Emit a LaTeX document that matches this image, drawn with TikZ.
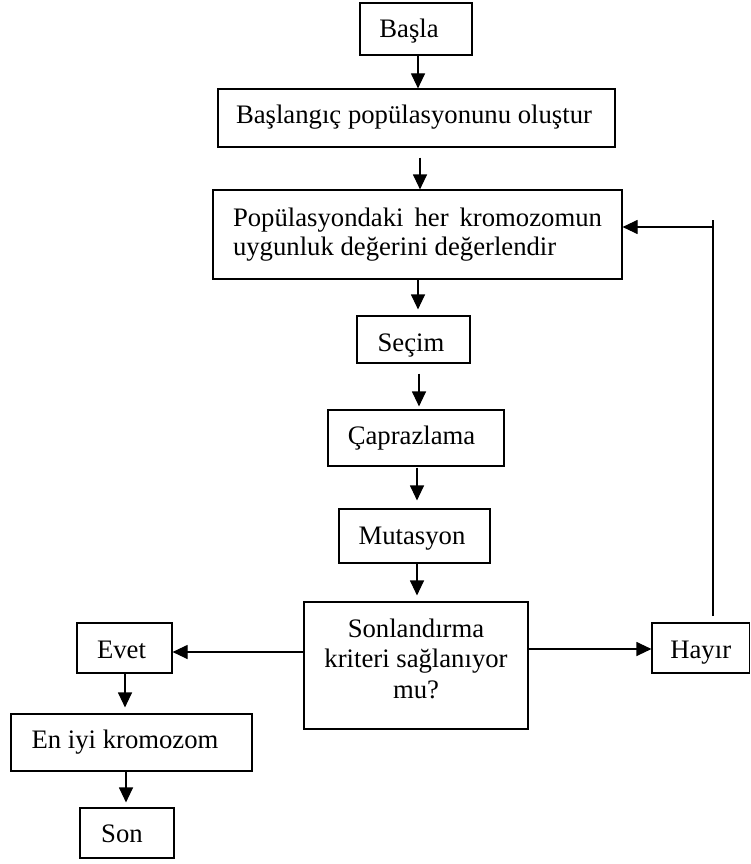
\documentclass[tikz,border=0pt]{standalone}
\usepackage{fontspec}
\setmainfont{Liberation Serif}
\usetikzlibrary{arrows.meta}
\newcommand{\lsh}[1]{\hspace*{#1}}
\begin{document}
\begin{tikzpicture}[x=1pt,y=-1pt,
  box/.style={draw, line width=1.15pt, inner sep=0pt, align=center,
    font=\fontsize{26.7}{30.5}\selectfont},
  arr/.style={-{Triangle[length=15pt,width=14pt]}, line width=1.15pt},
  plain/.style={line width=1.15pt}]
\useasboundingbox (0,0) rectangle (750,864);
\fill[white] (0,0) rectangle (750,864);
\node[box, minimum width=112pt, minimum height=52pt, text height=25pt, text depth=7pt] (basla) at (416,29) {Başla\lsh{14pt}};
\node[box, minimum width=397pt, minimum height=58pt, text height=19pt, text depth=7pt] (init) at (416.5,118) {Başlangıç popülasyonunu oluştur\lsh{5pt}};
\node[box, minimum width=409pt, minimum height=89pt, text width=369pt, align=justify, text height=18pt, text depth=35pt, font=\fontsize{26.7}{29}\selectfont] (eval) at (417.5,234.5) {\hyphenpenalty=10000 Popülasyondaki her kromozomun uygunluk değerini değerlendir};
\node[box, minimum width=113pt, minimum height=47pt, text height=30pt, text depth=7pt] (secim) at (413.5,339.5) {Seçim\lsh{5pt}};
\node[box, minimum width=176pt, minimum height=56pt, text height=19pt, text depth=7pt] (capr) at (416,438) {Çaprazlama\lsh{9pt}};
\node[box, minimum width=151pt, minimum height=54pt, text height=23pt, text depth=7pt] (mut) at (414.5,536) {Mutasyon\lsh{5pt}};
\node[box, minimum width=224pt, minimum height=127pt, text depth=14.2pt] (sonl) at (416,665.5) {Sonlandırma\\kriteri sağlanıyor\\mu?};
\node[box, minimum width=95pt, minimum height=50pt, text height=27pt, text depth=7pt] (evet) at (124.5,648) {Evet\lsh{6pt}};
\node[box, minimum width=97.5pt, minimum height=50pt, text height=27pt, text depth=7pt] (hayir) at (700.75,648) {Hayır};
\node[box, minimum width=241pt, minimum height=57pt, text height=18pt, text depth=7pt] (best) at (131.5,742.5) {En iyi kromozom\lsh{13pt}};
\node[box, minimum width=94pt, minimum height=50pt, text height=25pt, text depth=7pt] (son) at (127,833) {Son\lsh{10pt}};
\coordinate (fbbot) at (713,616);
\coordinate (fbtop) at (713,220);
\coordinate (fbturn) at (713,227);
% connectors
\draw[arr] ([xshift=2pt]basla.south) -- ([xshift=2pt]basla.south |- init.north);
\draw[arr, shorten <=10pt] ([xshift=3.5pt]init.south) -- ([xshift=3.5pt]init.south |- eval.north);
\draw[arr, shorten >=6pt] ([xshift=0.5pt]eval.south) -- ([xshift=0.5pt]eval.south |- secim.north);
\draw[arr, shorten <=10pt, shorten >=3pt] ([xshift=5.5pt]secim.south) -- ([xshift=5.5pt]secim.south |- capr.north);
\draw[arr, shorten <=1pt, shorten >=8pt] ([xshift=1pt]capr.south) -- ([xshift=1pt]capr.south |- mut.north);
\draw[arr, shorten >=6pt] ([xshift=2.5pt]mut.south) -- ([xshift=2.5pt]mut.south |- sonl.north);
\draw[arr] ([yshift=13.5pt]sonl.west) -- ([yshift=13.5pt]sonl.west -| evet.east);
\draw[arr] ([yshift=16.5pt]sonl.east) -- ([yshift=16.5pt]sonl.east -| hayir.west);
\draw[plain] (fbbot) -- (fbtop);
\draw[arr] (fbturn) -- (fbturn -| eval.east);
\draw[arr, shorten >=6pt] ([xshift=0.5pt]evet.south) -- ([xshift=0.5pt]evet.south |- best.north);
\draw[arr, shorten >=5pt] ([xshift=-5.5pt]best.south) -- ([xshift=-5.5pt]best.south |- son.north);
\end{tikzpicture}
\end{document}
